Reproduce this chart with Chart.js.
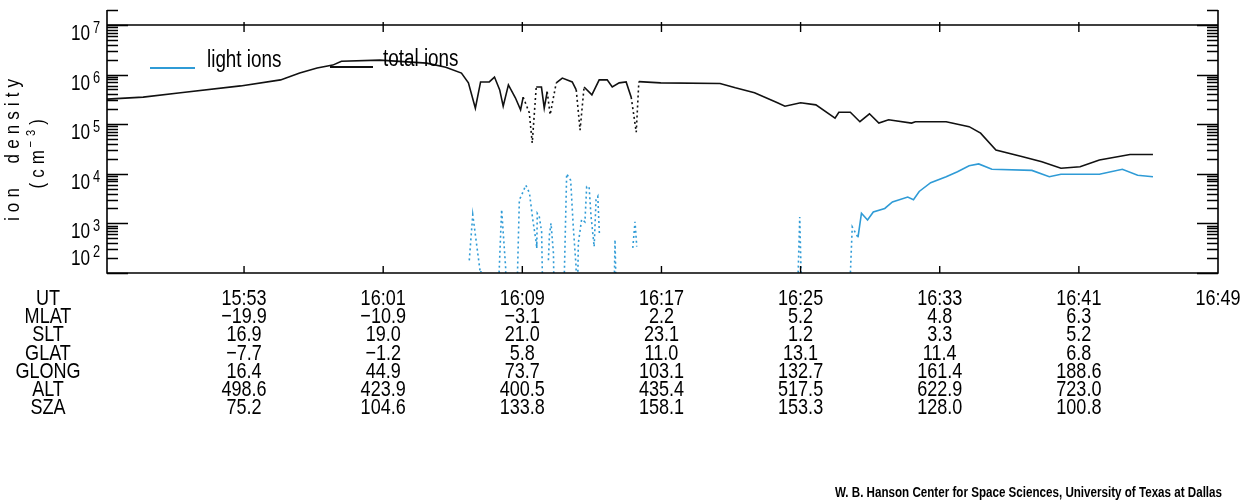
<!DOCTYPE html>
<html>
<head>
<meta charset="utf-8">
<script src="https://cdn.jsdelivr.net/npm/chart.js@4.4.1/dist/chart.umd.min.js"></script>
<style>
  html, body { margin: 0; padding: 0; background: #fff; }
  #wrap { width: 1252px; height: 504px; position: relative; }
  canvas { display: block; }
</style>
</head>
<body>
<div id="wrap"><canvas id="c" width="1252" height="504"></canvas></div>
<script>
// ---- time axis: minutes after 15:45 UT ----
const tickMinutes = [8, 16, 24, 32, 40, 48, 56, 64];
const utLabels = ['15:53', '16:01', '16:09', '16:17', '16:25', '16:33', '16:41', '16:49'];
const rowNames = ['UT', 'MLAT', 'SLT', 'GLAT', 'GLONG', 'ALT', 'SZA'];
const mlat  = [-19.9, -10.9, -3.1, 2.2, 5.2, 4.8, 6.3];
const slt   = [16.9, 19.0, 21.0, 23.1, 1.2, 3.3, 5.2];
const glat  = [-7.7, -1.2, 5.8, 11.0, 13.1, 11.4, 6.8];
const glong = [16.4, 44.9, 73.7, 103.1, 132.7, 161.4, 188.6];
const alt   = [498.6, 423.9, 400.5, 435.4, 517.5, 622.9, 723.0];
const sza   = [75.2, 104.6, 133.8, 158.1, 153.3, 128.0, 100.8];
const yDecades = [2, 3, 4, 5, 6, 7];

// ---- total ions (cm^-3) ----
const totalTime = [0.12, 2.2, 4.35, 7.8, 10.1, 11.2, 12.2, 13.1, 13.6, 15.8, 18.5, 19.6, 20.5, 20.9, 21.3, 21.6,
  22.1, 22.4, 22.7, 22.9, 23.2, 23.6, 23.9, 24.05, 24.4, 24.57, 24.8, 25.1, 25.26, 25.43, 25.6, 25.95,
  26.3, 26.87, 27.1, 27.32, 27.55, 28.0, 28.42, 28.88, 29.17, 29.57, 29.97, 30.26, 30.55, 30.7,
  31.96, 35.37, 36.25, 37.35, 38.67, 39.1, 40.0, 40.88, 41.98, 42.2, 42.86, 43.41, 43.96, 44.5,
  45.06, 46.38, 46.6, 48.37, 49.69, 50.35, 51.23, 52.77, 53.87, 54.97, 56.07, 57.18, 58.94, 60.26];
const totalIons = [3.2e5, 3.5e5, 4.3e5, 5.9e5, 7.8e5, 1.07e6, 1.35e6, 1.55e6, 1.86e6, 1.95e6, 1.7e6, 1.4e6, 1.07e6, 6.8e5, 2.1e5, 7.1e5,
  7.1e5, 8.9e5, 4.9e5, 2.3e5, 6.2e5, 3.4e5, 1.95e5, 3.5e5, 1.7e5, 4.2e4, 5.6e5, 5.6e5, 2.1e5, 4.5e5, 1.55e5, 6.8e5,
  8.5e5, 7.1e5, 4.9e5, 7.6e4, 5.6e5, 3.9e5, 7.8e5, 7.8e5, 5.6e5, 6.8e5, 7.1e5, 3.5e5, 6.9e4, 7.2e5,
  6.8e5, 6.6e5, 5.4e5, 4.3e5, 2.7e5, 2.3e5, 2.7e5, 2.45e5, 1.32e5, 1.74e5, 1.74e5, 1.12e5, 1.62e5, 1.05e5,
  1.23e5, 1.05e5, 1.12e5, 1.12e5, 8.9e4, 6.6e4, 3.0e4, 2.2e4, 1.74e4, 1.29e4, 1.38e4, 1.9e4, 2.45e4, 2.45e4];

// ---- light ions (cm^-3); null = no data, 10 = below plot floor ----
const lightTime = [20.95, 21.15, 21.57, 21.62, 21.7,
  22.55, 22.81, 23.04, 23.1, 23.65, 23.83, 23.93, 24.2, 24.41, 24.6, 24.79, 24.83, 24.86, 24.97, 25.11, 25.2, 25.3,
  25.5, 25.56, 25.65, 25.79, 25.85, 26.35, 26.55, 26.78, 26.93, 27.09, 27.15, 27.22, 27.41, 27.6, 27.7, 27.84,
  27.95, 28.13, 28.24, 28.34, 28.43, 28.6,
  29.25, 29.33, 29.43, 29.6,
  30.35, 30.48, 30.58, 30.7,
  39.78, 39.95, 40.1, 40.3,
  42.75, 42.97, 43.3, 43.5, 43.85, 44.18, 44.84, 45.28, 46.16, 46.49, 46.82, 47.48, 48.37, 49.02, 49.69,
  50.24, 51.0, 53.3, 54.3, 54.97, 57.18, 58.5, 59.38, 60.26];
const lightIons = [1.8e2, 1.5e3, 1.1e2, 10, null,
  10, 1.9e3, 1.3e2, 10, 10, 3.0e3, 3.5e3, 5.9e3, 4.1e3, 1.2e3, 4.3e2, 3.2e2, 1.6e3, 1.4e3, 6.8e2, 10, null,
  1.8e2, 5.9e2, 1.0e3, 2.5e2, 10, 10, 1.0e4, 7.4e3, 8.5e2, 1.35e2, 10, 4.0e2, 1.2e3, 1.07e3, 5.5e3, 5.5e3,
  1.4e3, 3.4e2, 3.0e3, 3.5e3, 6.3e2, null,
  10, 4.7e2, 10, null,
  3.2e2, 1.07e3, 3.4e2, null,
  10, 1.35e3, 10, null,
  10, 8.5e2, 5.2e2, 1.6e3, 1.17e3, 1.7e3, 2.0e3, 2.7e3, 3.4e3, 3.0e3, 4.4e3, 6.6e3, 8.7e3, 1.1e4, 1.45e4,
  1.58e4, 1.23e4, 1.17e4, 8.7e3, 9.8e3, 9.8e3, 1.23e4, 9.3e3, 8.7e3];

const BLUE = '#2f9bd6';
const FONT = '"Liberation Sans", Arial, sans-serif';
const SX = 0.82; // horizontal condensing of text

const toPts = (xs, ys) => xs.map((x, i) => ({ x: x, y: ys[i] }));
const fmt = v => (v < 0 ? '\u2212' + Math.abs(v).toFixed(1) : v.toFixed(1));

function txt(ctx, s, x, y, size, align, sx, weight) {
  ctx.save();
  ctx.font = (weight ? weight + ' ' : '') + size + 'px ' + FONT;
  ctx.textAlign = align;
  ctx.translate(x, y);
  ctx.scale(sx, 1);
  ctx.fillText(s, 0, 0);
  ctx.restore();
}

const framePlugin = {
  id: 'frame',
  afterDraw(chart) {
    const ctx = chart.ctx;
    const xs = chart.scales.x, ys = chart.scales.y;
    const L = chart.chartArea.left, R = chart.chartArea.right;
    const T = chart.chartArea.top, B = chart.chartArea.bottom;
    const yTop = ys.getPixelForValue(1e7);
    ctx.save();
    ctx.strokeStyle = '#000';
    ctx.fillStyle = '#000';
    ctx.textBaseline = 'alphabetic';
    ctx.lineWidth = 1.6;
    ctx.beginPath();
    ctx.moveTo(L, T); ctx.lineTo(L, B); ctx.lineTo(R, B); ctx.lineTo(R, T);
    ctx.moveTo(L, yTop); ctx.lineTo(R, yTop);
    ctx.stroke();
    // y ticks (inward, both sides)
    ctx.lineWidth = 1.4;
    ctx.beginPath();
    for (let d = 2; d <= 7; d++) {
      for (let m = 1; m <= 9; m++) {
        const v = m * Math.pow(10, d);
        if (v < 100 || v > 2e7) continue;
        const y = Math.round(ys.getPixelForValue(v)) + 0.5;
        const len = (m === 1) ? 21 : 11;
        ctx.moveTo(L, y); ctx.lineTo(L + len, y);
        ctx.moveTo(R, y); ctx.lineTo(R - len, y);
      }
    }
    // x ticks on top frame line and bottom axis
    tickMinutes.forEach(t => {
      const x = xs.getPixelForValue(t);
      if (x >= R - 1) return;
      ctx.moveTo(x, yTop - 3); ctx.lineTo(x, yTop + 7);
      ctx.moveTo(x, B); ctx.lineTo(x, B - 7);
    });
    ctx.stroke();

    // y tick labels 10^n
    yDecades.forEach(d => {
      const y = ys.getPixelForValue(Math.pow(10, d));
      const base = (d === 2) ? y - 8 : y + 15;
      const sup = (d === 2) ? y - 16 : y + 8;
      txt(ctx, '10', L - 17, base, 22, 'right', 0.78);
      txt(ctx, String(d), L - 7, sup, 16, 'right', 0.8);
    });

    // y-axis title (rotated)
    ctx.save();
    ctx.translate(19, 150);
    ctx.rotate(-Math.PI / 2);
    ctx.scale(0.85, 1);
    ctx.font = '20px ' + FONT;
    ctx.letterSpacing = '6px';
    ctx.textAlign = 'center';
    ctx.fillText('ion  density', 3, 0);
    ctx.restore();

    ctx.save();
    ctx.translate(44, 150);
    ctx.rotate(-Math.PI / 2);
    ctx.scale(0.85, 1);
    ctx.letterSpacing = '6px';
    ctx.textAlign = 'left';
    ctx.font = '20px ' + FONT;
    const p1 = '(cm', p3 = ')';
    const w1 = ctx.measureText(p1).width, w3 = ctx.measureText(p3).width;
    ctx.font = '13px ' + FONT;
    const p2 = '\u22123';
    const w2 = ctx.measureText(p2).width;
    let x0 = -(w1 + w2 + w3) / 2;
    ctx.font = '20px ' + FONT;
    ctx.fillText(p1, x0, 0);
    ctx.font = '13px ' + FONT;
    ctx.fillText(p2, x0 + w1 - 3, -9);
    ctx.font = '20px ' + FONT;
    ctx.fillText(p3, x0 + w1 + w2 - 3, 0);
    ctx.restore();

    // legend
    const dsets = chart.data.datasets;
    ctx.lineWidth = 2;
    ctx.strokeStyle = dsets[0].borderColor;
    ctx.beginPath(); ctx.moveTo(150, 68); ctx.lineTo(195, 68); ctx.stroke();
    ctx.strokeStyle = dsets[1].borderColor;
    ctx.beginPath(); ctx.moveTo(330, 67); ctx.lineTo(373, 67); ctx.stroke();
    txt(ctx, dsets[0].label, 207, 67, 23, 'left', SX);
    txt(ctx, dsets[1].label, 383, 66, 23, 'left', SX);

    // ephemeris table
    const rows = [utLabels, mlat.map(fmt), slt.map(fmt), glat.map(fmt), glong.map(fmt), alt.map(fmt), sza.map(fmt)];
    rows.forEach((vals, r) => {
      const y = 305 + r * 18.2;
      txt(ctx, rowNames[r], 48, y, 22, 'center', SX);
      vals.forEach((s, i) => {
        txt(ctx, s, xs.getPixelForValue(tickMinutes[i]), y, 22, 'center', SX);
      });
    });

    // credit (condensed to its printed width)
    const credit = 'W. B. Hanson Center for Space Sciences, University of Texas at Dallas';
    ctx.font = 'bold 14px ' + FONT;
    const cw = ctx.measureText(credit).width;
    txt(ctx, credit, 1222, 497, 14, 'right', 387 / cw, 'bold');
    ctx.restore();
  }
};

new Chart(document.getElementById('c'), {
  type: 'line',
  data: {
    datasets: [
      {
        label: 'light ions',
        data: toPts(lightTime, lightIons),
        borderColor: BLUE,
        borderWidth: 1.6,
        pointRadius: 0,
        spanGaps: false,
        tension: 0,
        segment: { borderDash: c => (c.p0.parsed.x < 43.0 ? [2, 3] : undefined) }
      },
      {
        label: 'total ions',
        data: toPts(totalTime, totalIons),
        borderColor: '#111',
        borderWidth: 1.6,
        pointRadius: 0,
        tension: 0,
        segment: {
          borderDash: c => ((c.p0.parsed.x < 31 && (c.p0.parsed.y < 1.8e5 || c.p1.parsed.y < 1.8e5)) ? [2, 3] : undefined)
        }
      }
    ]
  },
  options: {
    responsive: false,
    animation: false,
    devicePixelRatio: 1,
    layout: { padding: { left: 107, right: 34, top: 10, bottom: 231 } },
    plugins: { legend: { display: false }, tooltip: { enabled: false } },
    scales: {
      x: { type: 'linear', min: 0.12, max: 64, display: false },
      y: { type: 'logarithmic', min: 100, max: 2e7, display: false }
    }
  },
  plugins: [framePlugin]
});
</script>
</body>
</html>
